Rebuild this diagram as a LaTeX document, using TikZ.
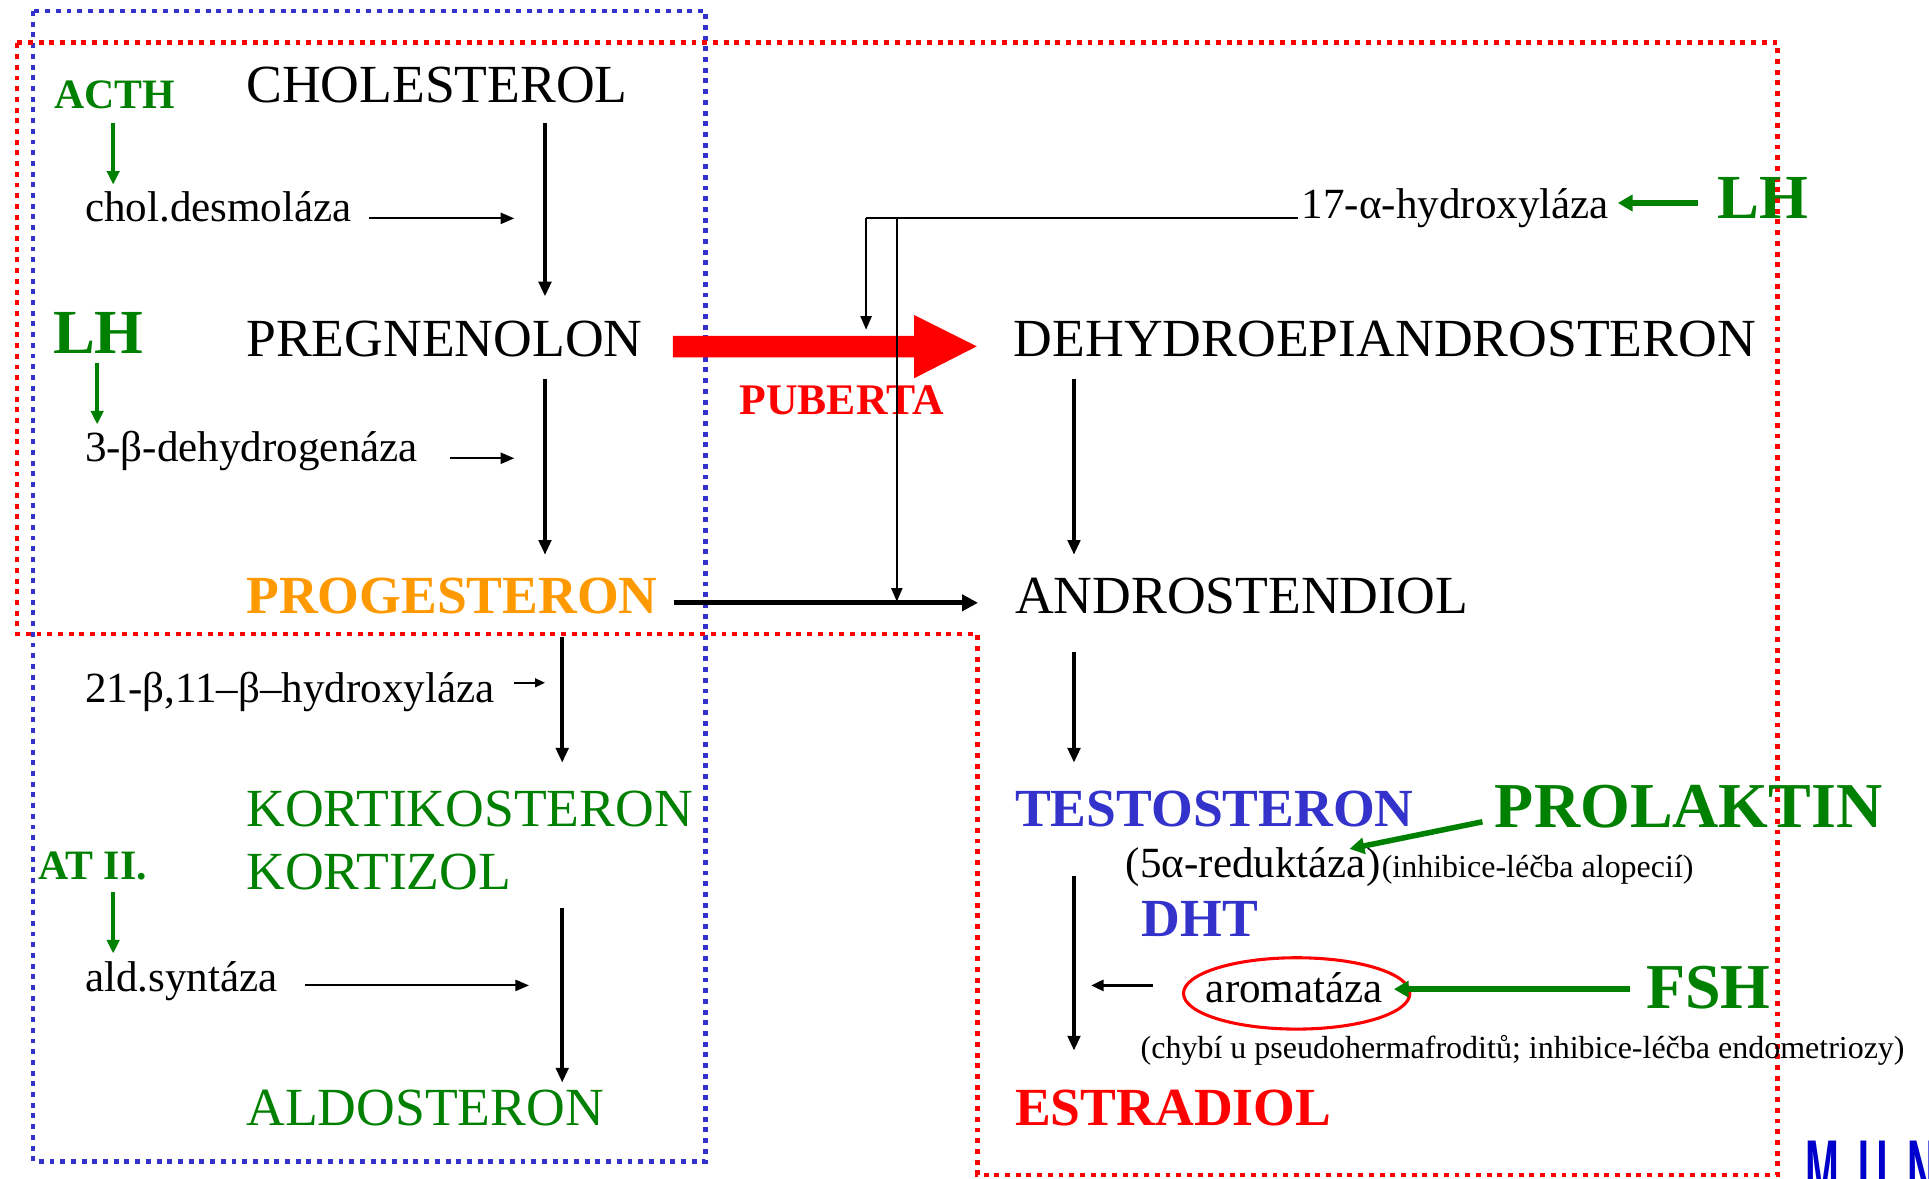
\documentclass[tikz,border=0pt]{standalone}
\usepackage{fontspec}
\setmainfont{Liberation Serif}
\newfontfamily\munfont{Liberation Sans}
\usetikzlibrary{arrows.meta,shapes.geometric}
\definecolor{hgreen}{HTML}{008000}
\definecolor{hblue}{HTML}{3333CC}
\definecolor{horange}{HTML}{FF9900}
\definecolor{hred}{HTML}{FF0000}
\definecolor{munblue}{HTML}{0000CC}
\tikzset{
  lbl/.style={inner sep=0pt, anchor=base west},
  name43/.style={lbl, font=\fontsize{43.6}{50}\selectfont},
  name43b/.style={lbl, font=\fontsize{43.6}{50}\selectfont\bfseries},
  hormone/.style={lbl, font=\fontsize{51}{58}\selectfont\bfseries, text=hgreen},
  hormsmall/.style={lbl, font=\fontsize{34}{40}\selectfont\bfseries, text=hgreen},
  enzyme/.style={lbl, font=\fontsize{35}{40}\selectfont},
  note/.style={lbl, font=\fontsize{26}{30}\selectfont},
  mainarrow/.style={draw=black, line width=3pt, -{Triangle[length=12pt,width=10pt]}},
  enzarrow/.style={draw=black, line width=1.6pt, -{Triangle[length=11pt,width=9pt]}},
  greenarrow/.style={draw=hgreen, line width=3pt, -{Triangle[length=11pt,width=10pt]}},
  greenthick/.style={draw=hgreen, line width=4.5pt, -{Triangle[length=12pt,width=13pt]}},
  bluedots/.style={draw=hblue, line width=3.6pt, dash pattern=on 4pt off 4.7pt},
  reddots/.style={draw=hred, line width=3.6pt, dash pattern=on 4pt off 4.7pt},
}
\begin{document}
\begin{tikzpicture}[x=1pt,y=-1pt]
\useasboundingbox (0,0) rectangle (1568,958);
\fill[white] (0,0) rectangle (1568,958);

% dotted frames
\draw[bluedots] (27,9) rectangle (573.5,944);
\draw[reddots] (14,34.7) -- (1445,34.7) -- (1445,955) -- (794.5,955) -- (794.5,515.5) -- (14,515.5) -- cycle;

% big red PUBERTA arrow
\fill[hred] (547,273) -- (743,273) -- (743,256) -- (794,281.5) -- (743,307.5) -- (743,290.5) -- (547,290.5) -- cycle;

% labels left column
\node[hormsmall] (acth) at (44,88) {ACTH};
\node[name43] (chol) at (200,83) {CHOLESTEROL};
\node[enzyme] (desmol) at (69,180) {chol.desmoláza};
\node[hormone] (lhleft) at (43,287) {LH};
\node[name43] (preg) at (200,290) {PREGNENOLON};
\node[enzyme] (dehyd) at (69,375) {3-β-dehydrogenáza};
\node[name43b, text=horange] (prog) at (200,499) {PROGESTERON};
\node[enzyme] (hydr21) at (69,571) {21-β,11–β–hydroxyláza};
\node[name43, text=hgreen] (kortiko) at (200,672) {KORTIKOSTERON};
\node[name43, text=hgreen] (kortizol) at (200,723) {KORTIZOL};
\node[hormsmall] (at2) at (31,715) {AT II.};
\node[enzyme] (aldsyn) at (69,806) {ald.syntáza};
\node[name43, text=hgreen] (aldo) at (200,915) {ALDOSTERON};

% labels right side
\node[lbl, font=\fontsize{35.5}{40}\selectfont\bfseries, text=hred] (puberta) at (601,337) {PUBERTA};
\node[name43] (dhea) at (824,290) {DEHYDROEPIANDROSTERON};
\node[enzyme] (hydr17) at (1058,178) {17-α-hydroxyláza};
\node[hormone] (lhright) at (1396,178) {LH};
\node[name43] (andro) at (825,499) {ANDROSTENDIOL};
\node[name43b, text=hblue] (testo) at (825,672) {TESTOSTERON};
\node[lbl, font=\fontsize{52}{58}\selectfont\bfseries, text=hgreen] (prolaktin) at (1215,673) {PROLAKTIN};
\node[enzyme] (reduk) at (915,713) {(5α-reduktáza)};
\node[note] (alop) at (1123,713) {(inhibice-léčba alopecií)};
\node[name43b, text=hblue] (dht) at (928,761) {DHT};
\node[enzyme] (aroma) at (980,815) {aromatáza};
\node[draw=hred, line width=2.5pt, ellipse, minimum width=184pt, minimum height=58pt] (aromell) at (1054,807.5) {};
\node[lbl, font=\fontsize{52}{58}\selectfont\bfseries, text=hgreen] (fsh) at (1338,820) {FSH};
\node[note] (chybi) at (927,860) {(chybí u pseudohermafroditů; inhibice-léčba endometriozy)};
\node[name43b, text=hred] (estra) at (825,915) {ESTRADIOL};

% MUNI logo fragment (cut by the page edge)
\begin{scope}
\clip (0,0) rectangle (1568,958);
\node[inner sep=0pt, anchor=north west, yscale=2.2, text=munblue, font=\munfont\fontsize{33}{33}\selectfont\bfseries] (muni) at (1467,927) {M\hspace{16pt}U\hspace{16pt}N\hspace{16pt}I};
\end{scope}

% coordinates for connectors
\coordinate (acthA) at (92,100);   \coordinate (acthB) at (92,150);
\coordinate (desA) at (300,177.5); \coordinate (desB) at (418,177.5);
\coordinate (cpA) at (443,100);    \coordinate (cpB) at (443,241);
\coordinate (lhA) at (79,295);     \coordinate (lhB) at (79,345);
\coordinate (dhA) at (366,372.5);  \coordinate (dhB) at (418,372.5);
\coordinate (ppA) at (443,308);    \coordinate (ppB) at (443,451);
\coordinate (pkA) at (457,518);    \coordinate (pkB) at (457,620);
\coordinate (h21A) at (418,555);   \coordinate (h21B) at (443,555);
\coordinate (atA) at (92,725);     \coordinate (atB) at (92,775);
\coordinate (alA) at (248,801);    \coordinate (alB) at (430,801);
\coordinate (kaA) at (457,738);    \coordinate (kaB) at (457,880);
\coordinate (paA) at (548,490);    \coordinate (paB) at (795,490);
\coordinate (h17A) at (1055,177.5);
\coordinate (h17C) at (729,177.5); \coordinate (h17D) at (729,489);
\coordinate (h17E) at (704,177.5); \coordinate (h17F) at (704,268);
\coordinate (lhrA) at (1380,165);  \coordinate (lhrB) at (1315,165);
\coordinate (daA) at (873,308);    \coordinate (daB) at (873,451);
\coordinate (atA2) at (873,530);   \coordinate (atB2) at (873,620);
\coordinate (teA) at (873,712);    \coordinate (teB) at (873,854);
\coordinate (arA) at (937,801);    \coordinate (arB) at (887,801);
\coordinate (prA) at (1205,668);   \coordinate (prB) at (1097,690);
\coordinate (fsA) at (1325,804);   \coordinate (fsB) at (1133,804);

% connectors
\draw[greenarrow] (acthA) -- (acthB);
\draw[enzarrow] (desA) -- (desB);
\draw[mainarrow] (cpA) -- (cpB);
\draw[greenarrow] (lhA) -- (lhB);
\draw[enzarrow] (dhA) -- (dhB);
\draw[mainarrow] (ppA) -- (ppB);
\draw[mainarrow] (pkA) -- (pkB);
\draw[draw=black, line width=1.6pt, -{Triangle[length=8pt,width=7pt]}] (h21A) -- (h21B);
\draw[greenarrow] (atA) -- (atB);
\draw[enzarrow] (alA) -- (alB);
\draw[mainarrow] (kaA) -- (kaB);
\draw[draw=black, line width=4pt, -{Triangle[length=13pt,width=13pt]}] (paA) -- (paB);
\draw[line width=1.6pt] (h17A) -- (h17E);
\draw[enzarrow] (h17C) -- (h17D);
\draw[enzarrow] (h17E) -- (h17F);
\draw[greenthick] (lhrA) -- (lhrB);
\draw[mainarrow] (daA) -- (daB);
\draw[mainarrow] (atA2) -- (atB2);
\draw[mainarrow] (teA) -- (teB);
\draw[draw=black, line width=2pt, -{Triangle[length=10pt,width=9pt]}] (arA) -- (arB);
\draw[greenthick] (prA) -- (prB);
\draw[greenthick] (fsA) -- (fsB);
\end{tikzpicture}
\end{document}
